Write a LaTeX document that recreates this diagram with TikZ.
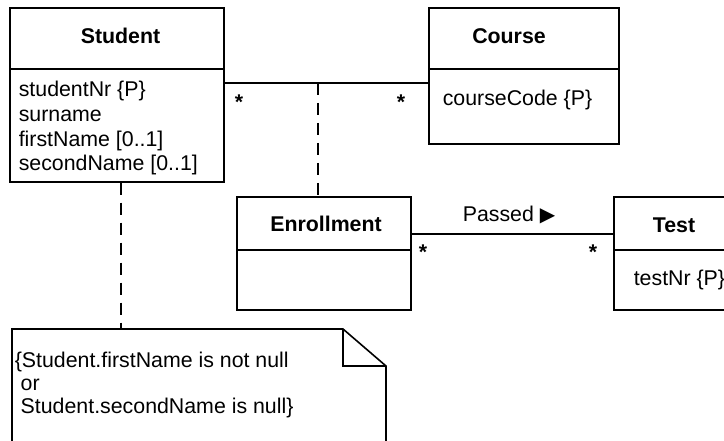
\documentclass[tikz,border=0pt]{standalone}
\usepackage{fontspec}
\setmainfont{Liberation Sans}
\newfontfamily\dejavu{DejaVu Sans}
\begin{document}
\begin{tikzpicture}[x=0.75pt,y=-0.75pt,line width=1.2pt,
  cls/.style 2 args={draw,inner sep=0pt,anchor=north west,minimum width=#1*0.75pt,minimum height=#2*0.75pt},
  txt/.style={inner sep=0pt,font=\fontsize{16}{19}\selectfont},
  title/.style={txt,font=\fontsize{16}{19}\selectfont\bfseries,anchor=base},
  attr/.style={txt,anchor=base west},
  mult/.style={txt,font=\fontsize{16}{19}\selectfont\bfseries,anchor=base},
  dline/.style={dash pattern=on 9pt off 6pt}]
\useasboundingbox (0,0) rectangle (724,441);
\clip (0,0) rectangle (724,441);
% classes
\node[cls={214}{61}] (studentH) at (9,7) {};
\node[cls={214}{113}] (studentB) at (9,68) {};
\node[cls={190}{61}] (courseH) at (428,7) {};
\node[cls={190}{75}] (courseB) at (428,68) {};
\node[cls={174}{53}] (enrH) at (236,196) {};
\node[cls={174}{60}] (enrB) at (236,249) {};
\node[cls={170}{53}] (testH) at (613,196) {};
\node[cls={170}{60}] (testB) at (613,249) {};
% texts
\node[title] (studentT) at (120.5,43.3) {Student};
\node[attr] (s1) at (18,96.5) {studentNr \{P\}};
\node[attr] (s2) at (18,121.3) {surname};
\node[attr] (s3) at (18,146.1) {firstName [0..1]};
\node[attr] (s4) at (18,170.9) {secondName [0..1]};
\node[title] (courseT) at (509,44) {Course};
\node[attr] (c1) at (442,106) {courseCode \{P\}};
\node[title] (enrT) at (326,231.7) {Enrollment};
\node[title] (testT) at (674,232.3) {Test};
\node[attr] (t1) at (633,286) {testNr \{P\}};
% associations
\coordinate (mid) at (318,83);
\draw (studentB.east |- mid) -- (courseB.west |- mid);
\draw[dline] (mid) -- (enrH.north -| mid);
\coordinate (pl) at (510,234);
\draw (enrH.east |- pl) -- (testH.west |- pl);
\node[attr] (passed) at (462,221.7) {Passed {\dejavu\fontsize{15}{15}\selectfont ▶}};
\node[mult] (m1) at (239,110) {*};
\node[mult] (m2) at (401,110) {*};
\node[mult] (m3) at (423,260) {*};
\node[mult] (m4) at (593,260) {*};
% note
\coordinate (nt) at (121,329);
\draw[dline] (studentB.south -| nt) -- (nt);
\draw (12,470) -- (12,329) -- (343,329) -- (386,366) -- (386,470);
\draw (343,329) -- (343,366) -- (386,366);
\node[attr] (n1) at (14,368) {\{Student.firstName is not null};
\node[attr] (n2) at (14,390.5) {\ or};
\node[attr] (n3) at (14,413) {\ Student.secondName is null\}};
\end{tikzpicture}
\end{document}
